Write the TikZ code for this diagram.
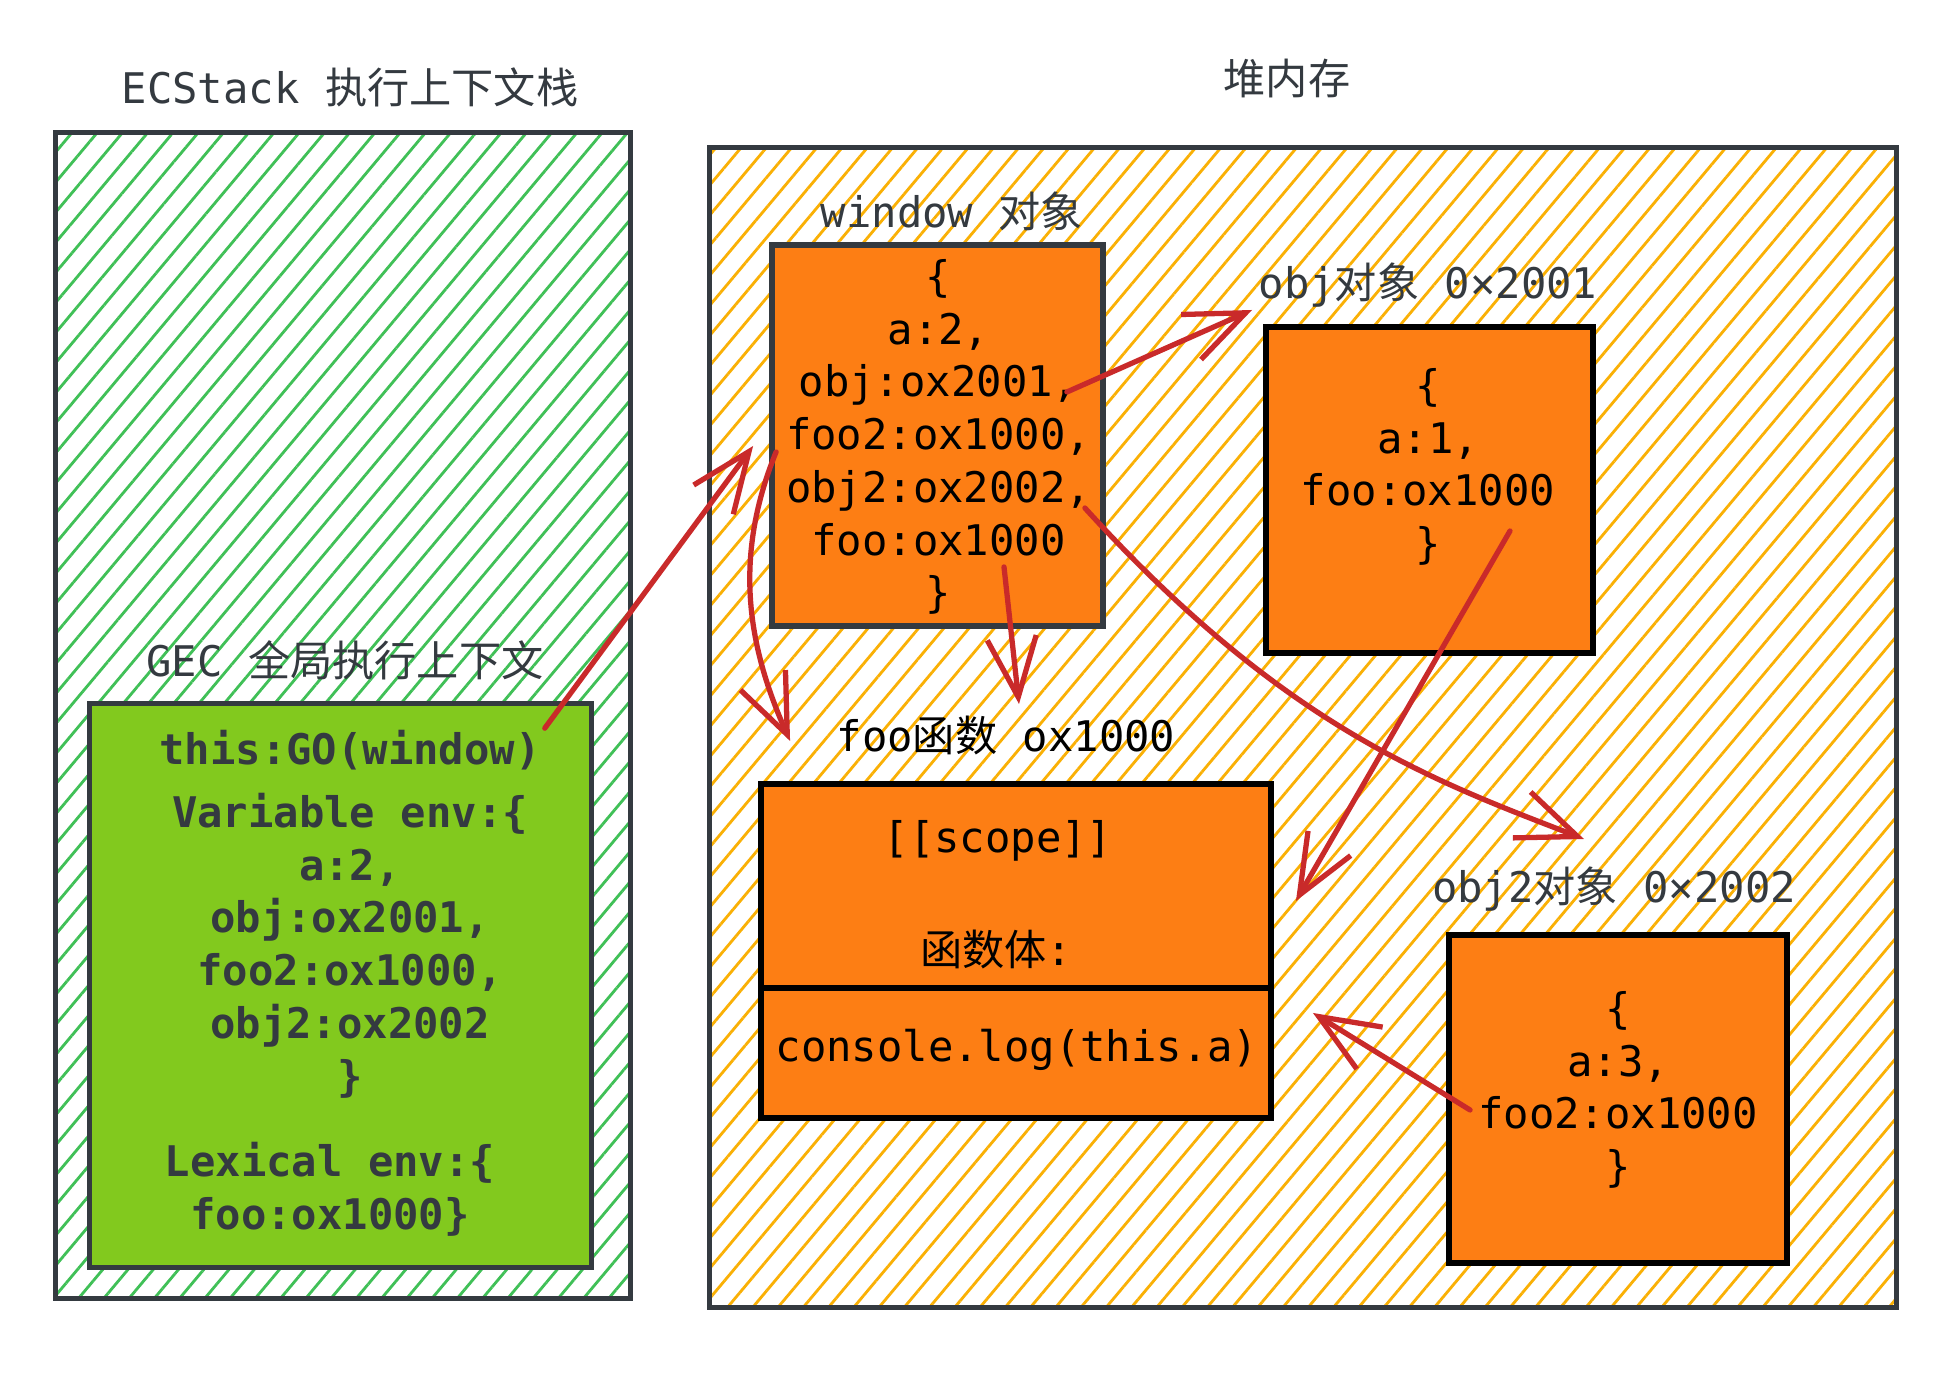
\documentclass[tikz,border=0pt]{standalone}
\usepackage{fontspec}
\setmainfont{DejaVu Sans Mono}
\newfontfamily\cjk{Noto Sans CJK SC}
\newcommand{\zh}[1]{{\cjk #1}}
\usetikzlibrary{patterns.meta,arrows.meta,calc}

\definecolor{inkgray}{HTML}{343A40}
\definecolor{hatchgreen}{HTML}{40C057}
\definecolor{hatchyellow}{HTML}{FAB005}
\definecolor{gecgreen}{HTML}{82C91E}
\definecolor{boxorange}{HTML}{FD7E14}
\definecolor{arrowred}{HTML}{C92A2A}

\tikzset{
  headtext/.style={font=\fontsize{12}{15}\selectfont, text=inkgray},
  stackarea/.style={draw=inkgray, line width=1.4pt,
    pattern={Lines[angle=50,distance=5.5pt,line width=0.8pt]}, pattern color=hatchgreen},
  heaparea/.style={draw=inkgray, line width=1.4pt,
    pattern={Lines[angle=50,distance=5.5pt,line width=0.8pt]}, pattern color=hatchyellow},
  gecbox/.style={draw=inkgray, fill=gecgreen, line width=1.5pt},
  gectext/.style={font=\fontsize{12}{15}\selectfont\bfseries, text=inkgray, align=center},
  objbox/.style={draw=black, fill=boxorange, line width=1.6pt},
  objtext/.style={font=\fontsize{12}{15}\selectfont, text=black, align=center},
  pointer/.style={draw=arrowred, line width=1.5pt, line cap=round,
    -{Straight Barb[length=17pt,width=14pt]}}
}

\begin{document}
\begin{tikzpicture}[x=0.01cm, y=-0.01cm, every node/.style={inner sep=0pt}]
\useasboundingbox (0,0) rectangle (1944,1392);
\fill[white] (0,0) rectangle (1944,1392);

% Pila de contextos
\node[headtext] (stacktitle) at (350,87) {ECStack \zh{执行上下文栈}};
\node[stackarea, minimum width=5.74cm, minimum height=11.65cm] (stack) at (343,715.5) {};

% Contexto global
\node[headtext] (gectitle) at (345,660) {GEC \zh{全局执行上下文}};
\node[gecbox, minimum width=5.01cm, minimum height=5.63cm] (gec) at (340.5,985.5) {};
\node[gectext] (gecvar) at (350,914) {this:GO(window)\\[3pt]Variable env:\{\\a:2,\\obj:ox2001,\\foo2:ox1000,\\obj2:ox2002\\\}};
\node[gectext] (geclex) at (330,1189) {Lexical env:\{\\foo:ox1000\}};

% Memoria heap
\node[headtext] (heaptitle) at (1287,79) {\zh{堆内存}};
\node[heaparea, minimum width=11.86cm, minimum height=11.59cm] (heap) at (1303,727.5) {};

% Objeto window
\node[headtext] (wintitle) at (952,211) {window \zh{对象}};
\node[objbox, draw=inkgray, minimum width=3.31cm, minimum height=3.81cm] (win) at (937.5,435.5) {};
\node[objtext] (wintext) at (938.5,437) {\{\\a:2,\\obj:ox2001,\\foo2:ox1000,\\obj2:ox2002,\\foo:ox1000\\\}};

% Objeto obj
\node[headtext] (objtitle) at (1428,285) {obj\zh{对象} 0×2001};
\node[objbox, minimum width=3.27cm, minimum height=3.26cm] (obj) at (1429.5,490) {};
\node[objtext] (objtext) at (1428,467) {\{\\a:1,\\foo:ox1000\\\}};

% Funcion foo
\node[headtext, text=black] (footitle) at (1006,736) {foo\zh{函数} ox1000};
\node[objbox, minimum width=5.10cm, minimum height=2.04cm] (fooscope) at (1016,886) {};
\node[objbox, minimum width=5.10cm, minimum height=1.30cm] (foobody) at (1016,1053) {};
\node[objtext] (scopetext) at (998,841) {[[scope]]};
\node[objtext] (bodylabel) at (996,950) {\zh{函数体}:};
\node[objtext] (bodytext) at (1017,1050) {console.log(this.a)};

% Objeto obj2
\node[headtext] (obj2title) at (1614,889) {obj2\zh{对象} 0×2002};
\node[objbox, minimum width=3.38cm, minimum height=3.28cm] (obj2) at (1618,1099) {};
\node[objtext] (obj2text) at (1618,1090) {\{\\a:3,\\foo2:ox1000\\\}};

% Referencias
\draw[pointer] ($(gec.north east)+(-49,27)$) -- ($(win.west)+(-16,10.5)$);
\draw[pointer] ($(win.east)+(-39,-43.5)$) -- ($(objtitle.west)+(-6,25)$);
\draw[pointer] ($(win.west)+(7,16.5)$) .. controls +(-45,110) and +(-40,-90) .. ($(footitle.west)+(-46,5)$);
\draw[pointer] ($(win.south)+(66.5,-62)$) -- ($(footitle.center)+(13,-32)$);
\draw[pointer] ($(win.east)+(-21,72.5)$) .. controls +(200,220) and +(-150,-58) .. ($(obj2title.center)+(-30,-50)$);
\draw[pointer] ($(obj.center)+(80.5,41)$) -- ($(fooscope.east)+(22,15)$);
\draw[pointer] ($(obj2.west)+(24,11)$) -- ($(foobody.east)+(39,-40)$);
\end{tikzpicture}
\end{document}
